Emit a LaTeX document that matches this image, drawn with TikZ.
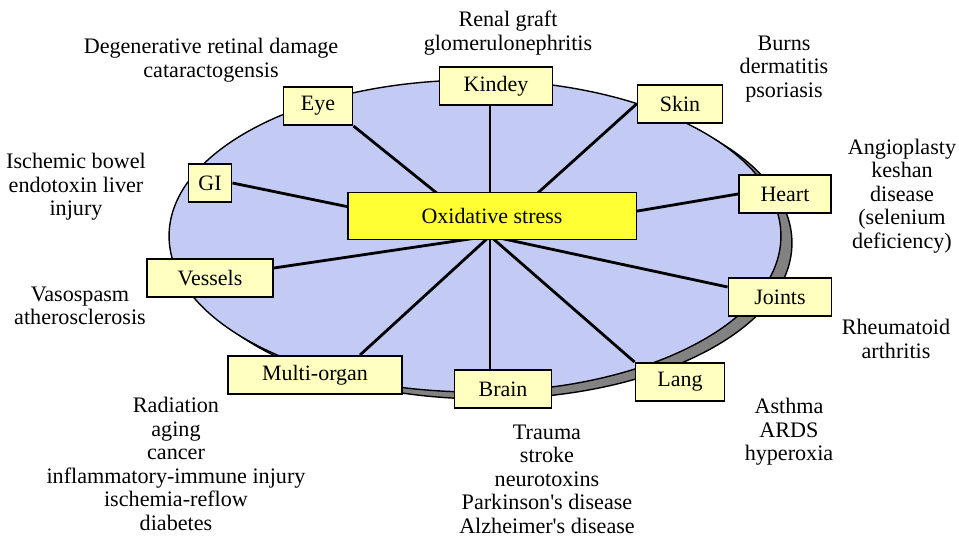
\documentclass[tikz,border=0pt]{standalone}
\usepackage{fontspec}
\setmainfont{Liberation Serif}
\usetikzlibrary{positioning,backgrounds}

\definecolor{plate}{RGB}{195,203,245}
\definecolor{rim}{RGB}{130,130,130}
\definecolor{organfill}{RGB}{255,255,192}
\definecolor{stressfill}{RGB}{255,255,51}

\tikzset{
  organ/.style={draw,line width=1.1pt,fill=organfill,minimum height=0.76cm,inner sep=0pt,
    font=\fontsize{12.5}{14}\selectfont},
  cause/.style={align=center,inner sep=0pt,font=\fontsize{12.6}{13.4}\selectfont},
  spoke/.style={line width=1.6pt},
}

\begin{document}
\begin{tikzpicture}[x=0.02cm,y=-0.02cm]
  \useasboundingbox (0,0) rectangle (959,537);
  \node[organ,fill=stressfill,minimum width=5.78cm,minimum height=0.94cm] (stress) at (492,216) {Oxidative stress};
  \node[organ,minimum width=1.38cm] (eye) at (318,106) {Eye};
  \node[organ,minimum width=2.26cm] (kidney) at (496,86) {Kindey};
  \node[organ,minimum width=1.70cm] (skin) at (680,104) {Skin};
  \node[organ,minimum width=0.86cm] (gi) at (210,183) {GI};
  \node[organ,minimum width=1.84cm] (heart) at (785,194) {Heart};
  \node[organ,minimum width=2.52cm] (vessels) at (210,278) {Vessels};
  \node[organ,minimum width=2.06cm] (joints) at (780,297) {Joints};
  \node[organ,minimum width=3.48cm] (multi) at (315,375) {Multi-organ};
  \node[organ,minimum width=1.94cm] (brain) at (503,389) {Brain};
  \node[organ,minimum width=1.78cm] (lang) at (680,382) {Lang};
  \coordinate (hub) at (490,236);

  \begin{scope}[on background layer]
    \draw[fill=rim,line width=0.8pt] (486,243) ellipse [x radius=6.12cm,y radius=3.12cm];
    \draw[fill=plate,line width=0.8pt] (475,236) ellipse [x radius=6.12cm,y radius=3.12cm];
    \draw[spoke] (hub) -- (eye.south east);
    \draw[spoke] (hub) -- (hub |- kidney.south);
    \draw[spoke] (hub) -- (skin.west);
    \draw[spoke] (hub) -- (gi.east);
    \draw[spoke] (hub) -- (heart.west);
    \draw[spoke] (hub) -- ([yshift=5.7pt]vessels.east);
    \draw[spoke] (hub) -- ([yshift=5.7pt]joints.west);
    \draw[spoke] (hub) -- ([xshift=0.9cm]multi.north);
    \draw[spoke] (hub) -- (hub |- brain.north);
    \draw[spoke] (hub) -- (lang.north west);
  \end{scope}

  \node[cause] (renal) at (508,33) {Renal graft\\glomerulonephritis};
  \node[cause] (retina) at (211,60) {Degenerative retinal damage\\cataractogensis};
  \node[cause] (burns) at (784,69) {Burns\\dermatitis\\psoriasis};
  \node[cause] (bowel) at (76,187) {Ischemic bowel\\endotoxin liver\\injury};
  \node[cause] (angio) at (902,196) {Angioplasty\\keshan\\disease\\(selenium\\deficiency)};
  \node[cause] (vaso) at (80,306) {Vasospasm\\atherosclerosis};
  \node[cause] (rheuma) at (896,339) {Rheumatoid\\arthritis};
  \node[cause] (radiation) at (176,464) {Radiation\\aging\\cancer\\inflammatory-immune injury\\ischemia-reflow\\diabetes};
  \node[cause] (trauma) at (547,479) {Trauma\\stroke\\neurotoxins\\Parkinson\textquotesingle s disease\\Alzheimer\textquotesingle s disease};
  \node[cause] (asthma) at (789,432) {Asthma\\ARDS\\hyperoxia};
\end{tikzpicture}
\end{document}
